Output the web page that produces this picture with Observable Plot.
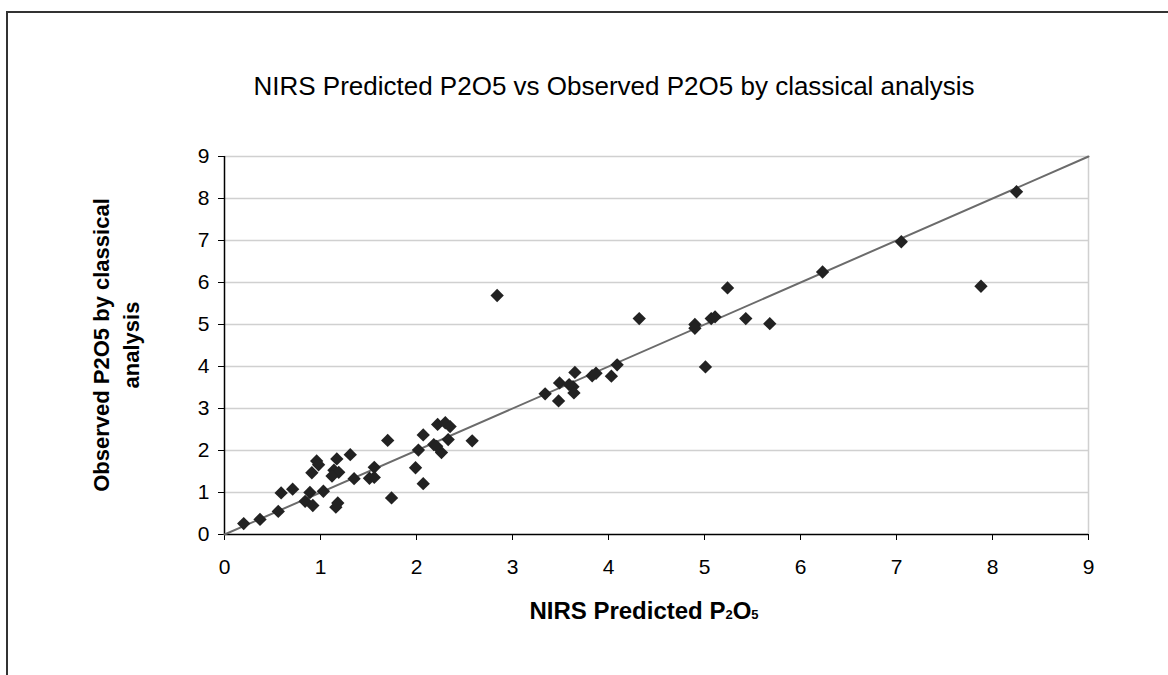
<!DOCTYPE html>
<html>
<head>
<meta charset="utf-8">
<script src="https://cdn.jsdelivr.net/npm/d3@7"></script>
<script src="https://cdn.jsdelivr.net/npm/@observablehq/plot@0.6"></script>
<style>
  html, body { margin: 0; padding: 0; background: #fff; }
  #wrap { position: relative; width: 1168px; height: 675px; overflow: hidden; font-family: "Liberation Sans", Arial, sans-serif; color: #000; }
  #frame { position: absolute; left: 6px; top: 11px; width: 1200px; height: 700px; border-left: 2px solid #333; border-top: 2px solid #333; box-sizing: border-box; }
  #chart { position: absolute; left: 0; top: 0; }
  #title { position: absolute; left: 0; width: 1228px; top: 72px; text-align: center; font-size: 26px; line-height: 29px; }
  #xlabel { position: absolute; left: 224px; width: 840px; top: 597px; text-align: center; font-size: 24px; line-height: 28px; font-weight: bold; }
  #xlabel .s { font-size: 13px; }
  #ylabel { position: absolute; left: 117px; top: 345px; width: 420px; transform: translate(-50%, -50%) rotate(-90deg); text-align: center; font-size: 22px; font-weight: bold; line-height: 30px; }
</style>
</head>
<body>
<div id="wrap">
  <div id="frame"></div>
  <div id="chart"></div>
  <div id="title">NIRS Predicted P2O5 vs Observed P2O5 by classical analysis</div>
  <div id="xlabel">NIRS Predicted P<span class="s">2</span>O<span class="s">5</span></div>
  <div id="ylabel">Observed P2O5 by classical<br>analysis</div>
</div>
<script>
const predicted = [0.20,0.37,0.56,0.59,0.71,0.84,0.89,0.92,0.91,0.96,0.98,1.03,1.17,1.14,1.19,1.12,1.16,1.18,1.31,1.35,1.51,1.56,1.56,1.70,1.74,1.99,2.02,2.07,2.07,2.18,2.22,2.30,2.35,2.33,2.26,2.21,2.58,2.84,3.34,3.48,3.49,3.65,3.59,3.63,3.64,3.83,3.87,4.03,4.09,4.32,4.90,4.90,5.01,5.07,5.11,5.24,5.43,5.68,6.23,7.05,7.88,8.25];
const observed  = [0.26,0.36,0.55,0.99,1.08,0.79,1.00,0.69,1.47,1.75,1.66,1.03,1.80,1.53,1.48,1.39,0.65,0.75,1.90,1.33,1.34,1.60,1.36,2.24,0.87,1.59,2.01,1.21,2.37,2.14,2.62,2.66,2.57,2.26,1.95,2.10,2.23,5.69,3.35,3.18,3.61,3.86,3.57,3.52,3.37,3.78,3.84,3.77,4.04,5.14,5.00,4.91,3.99,5.14,5.18,5.87,5.14,5.02,6.25,6.97,5.91,8.16];
const lineX = [0, 9];
const lineY = [0, 9];
const xTicks = [0,1,2,3,4,5,6,7,8,9];
const yTicks = [0,1,2,3,4,5,6,7,8,9];
const gridY = [1,2,3,4,5,6,7,8,9];

const pts = predicted.map((x, i) => ({x, y: observed[i]}));
const line = lineX.map((x, i) => ({x, y: lineY[i]}));

const chart = Plot.plot({
  width: 1168,
  height: 675,
  marginLeft: 224,
  marginRight: 80,
  marginTop: 156,
  marginBottom: 141,
  style: { fontFamily: "'Liberation Sans', Arial, sans-serif", fontSize: "21px", color: "#000", background: "transparent" },
  x: { domain: [0, 9] },
  y: { domain: [0, 9] },
  marks: [
    Plot.ruleY(gridY, { stroke: "#d0d0d0", strokeWidth: 1.5 }),
    Plot.ruleX([9], { stroke: "#d0d0d0", strokeWidth: 1.5 }),
    Plot.axisX({ ticks: xTicks, tickSize: 6, tickPadding: 19, label: null, stroke: "#000", fontSize: 21 }),
    Plot.axisY({ ticks: yTicks, tickSize: 6, tickPadding: 9, label: null, stroke: "#000", fontSize: 21 }),
    Plot.ruleY([0], { stroke: "#000", strokeWidth: 1.5 }),
    Plot.ruleX([0], { stroke: "#000", strokeWidth: 1.5 }),
    Plot.line(line, { x: "x", y: "y", stroke: "#6b6b6b", strokeWidth: 2 }),
    Plot.dot(pts, { x: "x", y: "y", symbol: "diamond2", r: 6, fill: "#222", stroke: "none" })
  ]
});
document.getElementById("chart").appendChild(chart);
</script>
</body>
</html>
